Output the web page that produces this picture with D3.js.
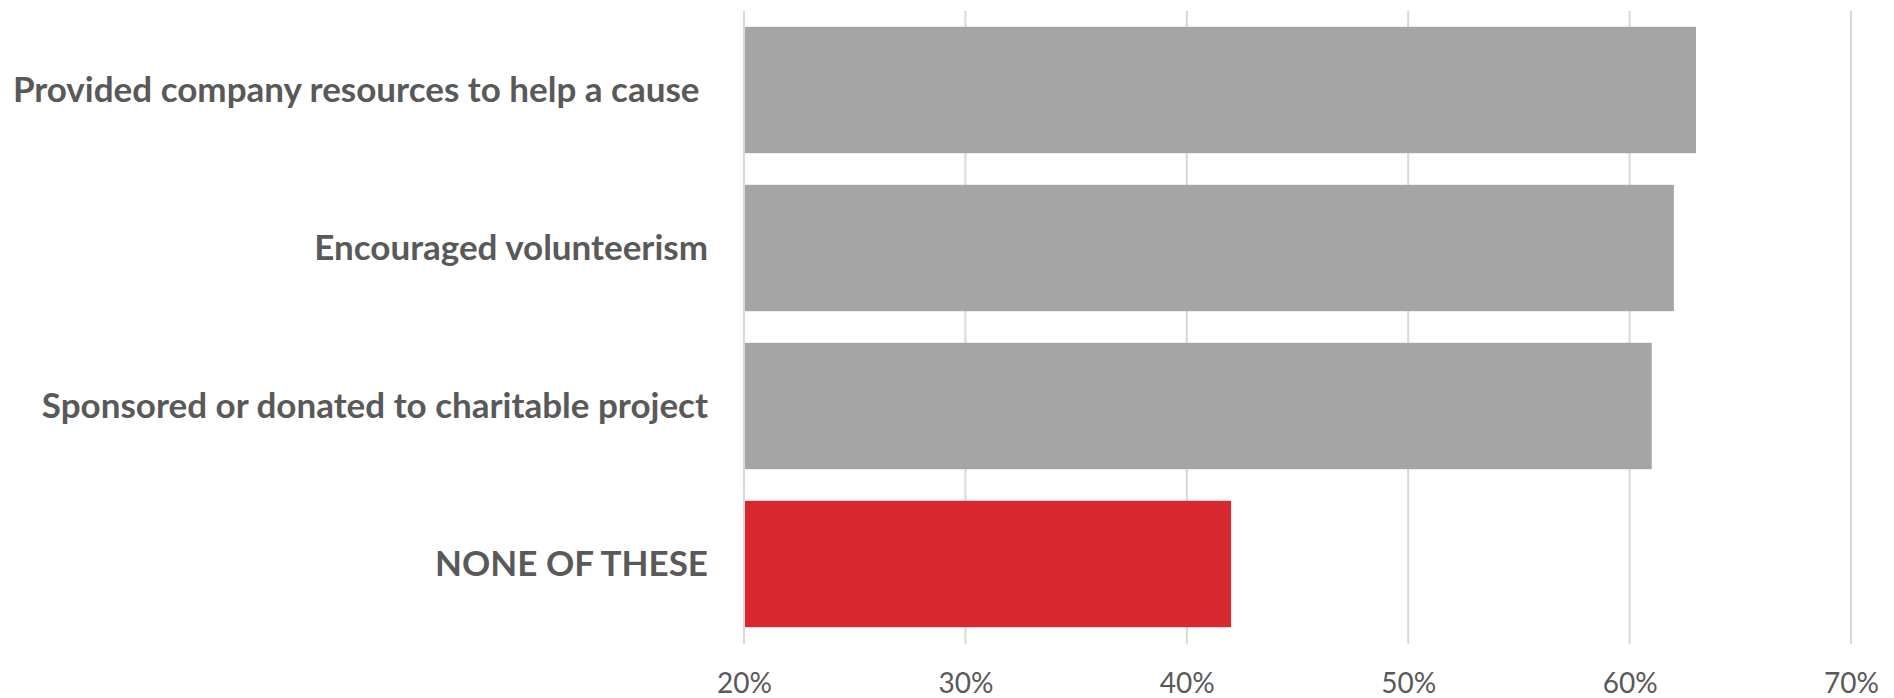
<!DOCTYPE html>
<html>
<head>
<meta charset="utf-8">
<script src="https://cdn.jsdelivr.net/npm/d3@7"></script>
<style>
  html, body { margin: 0; padding: 0; background: #ffffff; }
  svg { display: block; }
  text { white-space: pre; }
</style>
</head>
<body>
<svg id="chart" width="1894" height="698"></svg>
<script>
// Share of companies taking each action
const categories = [
  "Provided company resources to help a cause ",
  "Encouraged volunteerism",
  "Sponsored or donated to charitable project",
  "NONE OF THESE"
];
const values = [0.63, 0.62, 0.61, 0.42];
const highlight = [false, false, false, true];
const tickValues = [0.2, 0.3, 0.4, 0.5, 0.6, 0.7];

const width = 1894, height = 698;
const plot = { left: 744, right: 1851, top: 11, bottom: 643 };

const svg = d3.select("#chart");

const x = d3.scaleLinear().domain([0.2, 0.7]).range([plot.left, plot.right]);
const y = d3.scaleBand()
  .domain(categories)
  .range([plot.top, plot.bottom])
  .paddingInner(0.2)
  .paddingOuter(0.1);

// Vertical gridlines
svg.append("g")
  .selectAll("line")
  .data(tickValues)
  .join("line")
  .attr("x1", d => x(d)).attr("x2", d => x(d))
  .attr("y1", plot.top).attr("y2", plot.bottom + 1)
  .attr("stroke", "#d9d9d9")
  .attr("stroke-width", 2);

// Bars
svg.append("g")
  .selectAll("rect")
  .data(categories)
  .join("rect")
  .attr("x", x(0.2) + 1)
  .attr("y", d => y(d))
  .attr("width", (d, i) => x(values[i]) - x(0.2) - 1)
  .attr("height", y.bandwidth())
  .attr("fill", (d, i) => highlight[i] ? "#d9272f" : "#a5a5a5");

// Bottom axis labels
const xAxis = d3.axisBottom(x)
  .tickValues(tickValues)
  .tickFormat(d3.format(".0%"))
  .tickSize(0)
  .tickPadding(0);
const gx = svg.append("g")
  .attr("transform", `translate(0,${plot.bottom})`)
  .call(xAxis);
gx.select(".domain").remove();
gx.selectAll("text")
  .attr("dy", null)
  .attr("y", 50)
  .attr("font-family", "Lato, 'Open Sans', sans-serif")
  .attr("font-size", 28)
  .attr("fill", "#595959");

// Category labels
const yAxis = d3.axisLeft(y).tickSize(0).tickPadding(0);
const gy = svg.append("g")
  .attr("transform", `translate(${plot.left - 36},0)`)
  .call(yAxis);
gy.select(".domain").remove();
gy.selectAll("text")
  .attr("dy", "0.35em")
  .attr("font-family", "Lato, 'Open Sans', sans-serif")
  .attr("font-weight", "bold")
  .attr("font-size", 35)
  .attr("fill", "#595959");
</script>
</body>
</html>
